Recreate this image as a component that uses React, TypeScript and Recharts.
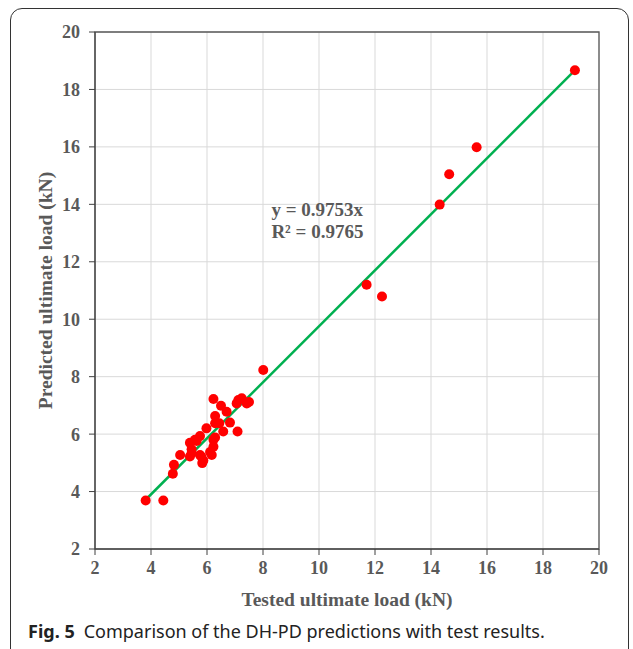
import React from "react";
import {
  ScatterChart,
  Scatter,
  XAxis,
  YAxis,
  CartesianGrid,
  ReferenceArea,
  ReferenceDot,
  Label,
} from "recharts";

// Tested ultimate load (kN)
const tested = [
  3.81, 4.44, 4.78, 4.82, 5.04, 5.39, 5.45, 5.45, 5.39, 5.57, 5.63, 5.75, 5.75,
  5.8, 5.87, 5.83, 5.98, 6.11, 6.17, 6.23, 6.23, 6.29, 6.23, 6.5, 6.7, 6.29,
  6.29, 6.44, 6.82, 6.58, 7.09, 7.06, 7.12, 7.24, 7.42, 7.5, 8.01, 11.7, 12.25,
  14.31, 14.65, 15.63, 19.14,
];
// Predicted ultimate load (kN)
const predicted = [
  3.69, 3.69, 4.62, 4.93, 5.27, 5.7, 5.33, 5.47, 5.22, 5.8, 5.76, 5.93, 5.27,
  5.21, 5.08, 4.99, 6.2, 5.38, 5.27, 5.56, 5.8, 5.88, 7.22, 6.99, 6.78, 6.63,
  6.38, 6.38, 6.4, 6.09, 6.09, 7.07, 7.19, 7.25, 7.07, 7.12, 8.23, 11.2, 10.79,
  13.99, 15.05, 15.99, 18.67,
];
const ticks = [2, 4, 6, 8, 10, 12, 14, 16, 18, 20];
const trendSlope = 0.9753;
const trendX = [3.8, 19.1];
const equationLines = ["y = 0.9753x", "R² = 0.9765"];

const points = tested.map((x, i) => ({ x, y: predicted[i] }));
const trend = trendX.map((x) => ({ x, y: x * trendSlope }));

const GRAY = "#595959";
const SERIF = "'Liberation Serif', 'Times New Roman', serif";
const TITLE_SIZE = 19.5;

const Dot = (props: any) => (
  <circle cx={props.cx} cy={props.cy} r={5} fill="#ff0000" />
);

export default function App() {
  return (
    <div
      style={{
        position: "absolute",
        left: 0,
        top: 0,
        width: 633,
        height: 649,
        background: "#fff",
        overflow: "hidden",
      }}
    >
      <div
        style={{
          position: "absolute",
          left: 10,
          top: 8,
          width: 619,
          height: 680,
          border: "1.5px solid #333",
          borderRadius: 12,
          boxSizing: "border-box",
        }}
      />
      <div style={{ position: "absolute", left: 0, top: 0 }}>
        <ScatterChart
          width={633}
          height={620}
          margin={{ top: 32, right: 34, bottom: 41, left: 0 }}
        >
          <CartesianGrid stroke="#d9d9d9" strokeWidth={1} />
          <ReferenceArea
            x1={2}
            x2={20}
            y1={2}
            y2={20}
            fill="none"
            stroke={GRAY}
            strokeWidth={1.3}
            fillOpacity={0}
          />
          <XAxis
            type="number"
            dataKey="x"
            domain={[2, 20]}
            ticks={ticks}
            allowDataOverflow
            height={30}
            stroke="#404040"
            tickSize={6}
            tickMargin={6}
            tick={{
              fill: GRAY,
              fontFamily: SERIF,
              fontWeight: "bold",
              fontSize: 18,
            }}
          >
            <Label
              content={(p: any) => {
                const vb = p.viewBox;
                return (
                  <text
                    x={vb.x + vb.width / 2}
                    y={vb.y + vb.height + 27}
                    textAnchor="middle"
                    fill={GRAY}
                    fontFamily={SERIF}
                    fontWeight="bold"
                    fontSize={TITLE_SIZE}
                  >
                    Tested ultimate load (kN)
                  </text>
                );
              }}
            />
          </XAxis>
          <YAxis
            type="number"
            dataKey="y"
            domain={[2, 20]}
            ticks={ticks}
            allowDataOverflow
            width={95}
            stroke="#404040"
            tickSize={6}
            tickMargin={9}
            tick={{
              fill: GRAY,
              fontFamily: SERIF,
              fontWeight: "bold",
              fontSize: 18,
            }}
          >
            <Label
              content={(p: any) => {
                const vb = p.viewBox;
                const cy = vb.y + vb.height / 2;
                return (
                  <text
                    x={45}
                    y={cy}
                    transform={`rotate(-90, 45, ${cy})`}
                    textAnchor="middle"
                    dominantBaseline="central"
                    fill={GRAY}
                    fontFamily={SERIF}
                    fontWeight="bold"
                    fontSize={TITLE_SIZE}
                  >
                    Predicted ultimate load (kN)
                  </text>
                );
              }}
            />
          </YAxis>
          <Scatter
            data={trend}
            isAnimationActive={false}
            line={{ stroke: "#00b050", strokeWidth: 2.5 }}
            shape={() => null}
          />
          <Scatter
            data={points}
            isAnimationActive={false}
            shape={Dot}
          />
          <ReferenceDot
            x={8.3}
            y={13.6}
            r={0}
            fill="none"
            stroke="none"
            label={(p: any) => {
              const vb = p.viewBox;
              return (
                <g>
                  {equationLines.map((t, i) => (
                    <text
                      key={i}
                      x={vb.x}
                      y={vb.y + i * 22}
                      fill={GRAY}
                      fontFamily={SERIF}
                      fontWeight="bold"
                      fontSize={19}
                    >
                      {t}
                    </text>
                  ))}
                </g>
              );
            }}
          />
        </ScatterChart>
      </div>
      <div
        style={{
          position: "absolute",
          left: 28,
          top: 619,
          fontFamily: "'Noto Sans', sans-serif",
          fontSize: 18,
          color: "#222",
          whiteSpace: "nowrap",
        }}
      >
        <span style={{ fontWeight: "bold" }}>Fig. 5</span>
        <span style={{ marginLeft: 9 }}>
          Comparison of the DH-PD predictions with test results.
        </span>
      </div>
    </div>
  );
}
